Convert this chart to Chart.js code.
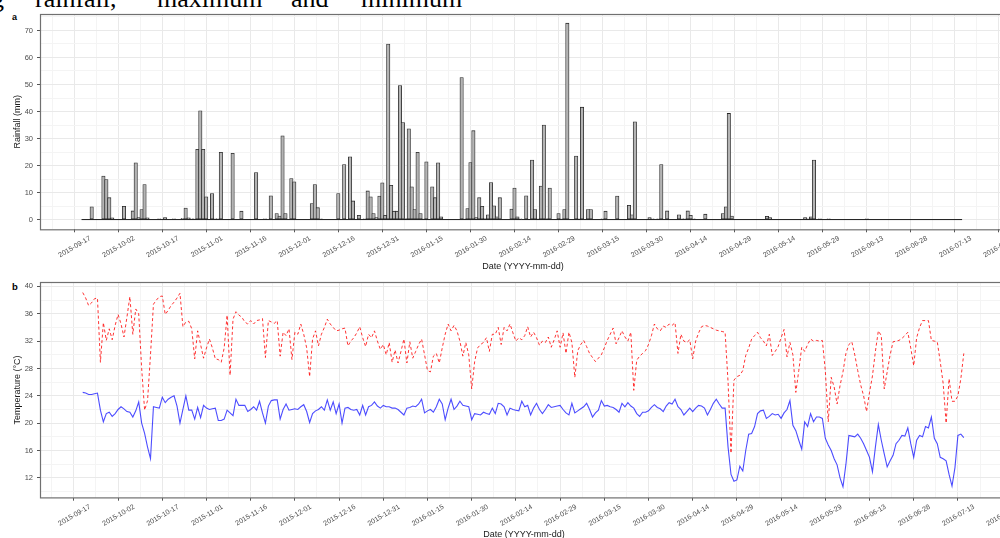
<!DOCTYPE html>
<html>
<head>
<meta charset="utf-8">
<script src="https://cdn.jsdelivr.net/npm/chart.js@4.4.0/dist/chart.umd.min.js"></script>
<style>
  html, body { margin: 0; padding: 0; background: #fff; }
  body { width: 1000px; height: 538px; overflow: hidden; position: relative; }
  .caption { position: absolute; top: -14px; font-family: "Liberation Serif", "Times New Roman", serif; font-size: 26px; line-height: 26px; color: #000; white-space: nowrap; }
  .tag { position: absolute; left: 12px; font-family: "Liberation Sans", Arial, sans-serif; font-weight: bold; font-size: 9px; line-height: 9px; color: #000; }
  canvas { position: absolute; left: 0; }
</style>
</head>
<body>
<span class="caption" style="left:-9px">g</span>
<span class="caption" style="left:35px">rainfall,</span>
<span class="caption" style="left:157px">maximum</span>
<span class="caption" style="left:291px">and</span>
<span class="caption" style="left:361px">minimum</span>
<div class="tag" style="top:13px">a</div>
<div class="tag" style="top:282px;font-size:9.5px">b</div>
<canvas id="rainChart" width="1006" height="272" style="top:0"></canvas>
<canvas id="tempChart" width="1008" height="278" style="top:270px"></canvas>
<script>
// ===============================================
// Daily rainfall and temperature, 2015-09-20 .. 2016-07-15
// x values are days counted from 2015-09-17
// ===============================================

const firstDay = 3; // 2015-09-20

const tickDates = ['2015-09-17', '2015-10-02', '2015-10-17', '2015-11-01', '2015-11-16', '2015-12-01',
    '2015-12-16', '2015-12-31', '2016-01-15', '2016-01-30', '2016-02-14', '2016-02-29', '2016-03-15',
    '2016-03-30', '2016-04-14', '2016-04-29', '2016-05-14', '2016-05-29', '2016-06-13', '2016-06-28',
    '2016-07-13', '2016-07-28'];

// rainfall (mm), one value per day
const rainfall = [
    0, 0, 0, 4.7, 0, 0, 0, 16.1, 14.8, 8.1,
    0.6, 0, 0, 0, 4.9, 0, 0, 3.2, 21.0, 0.7,
    3.7, 13.0, 0.6, 0, 0, 0, 0.3, 0, 0.7, 0,
    0, 0.3, 0, 0, 0.5, 4.3, 0.6, 0.3, 0.3, 26.0,
    40.3, 26.0, 8.4, 0, 9.6, 0.3, 0.3, 24.9, 0, 0,
    0, 24.5, 0, 0, 3.1, 0, 0, 0, 0, 17.4,
    0, 0, 0.3, 0, 8.8, 0, 2.2, 1.3, 31.0, 2.2,
    0, 15.2, 14.0, 0, 0, 0, 0, 0, 5.9, 13.0,
    4.4, 0.3, 0, 0, 0, 0, 0, 9.6, 0, 20.4,
    0, 23.2, 6.9, 0, 1.6, 0, 0.3, 10.6, 8.4, 2.2,
    0.7, 8.7, 13.6, 1.6, 65.0, 12.7, 3.1, 3.1, 49.6, 35.9,
    0.5, 33.6, 12.1, 3.7, 24.9, 2.2, 0.3, 21.4, 0, 12.1,
    8.1, 21.0, 1.0, 0, 0, 0, 0, 0, 0, 52.6,
    0.3, 4.1, 21.1, 32.9, 0.7, 8.1, 4.9, 0.5, 1.8, 13.7,
    5.1, 1.0, 8.1, 0, 0, 0, 3.9, 11.7, 1.0, 0.3,
    0, 8.8, 0, 22.0, 3.7, 0.3, 12.4, 35.0, 0.5, 11.7,
    0, 0, 2.2, 0.3, 3.7, 72.7, 0, 0, 23.5, 0.3,
    41.6, 0, 3.7, 3.7, 0, 0, 0, 0.3, 3.1, 0,
    0, 0, 8.7, 0, 0, 0, 5.3, 1.8, 36.2, 0,
    0, 0, 0, 0.7, 0.3, 0, 0.3, 20.4, 0, 3.2,
    0, 0, 0, 1.8, 0.3, 0.3, 3.2, 1.6, 0.3, 0,
    0, 0, 2.0, 0, 0, 0, 0, 0, 2.2, 4.7,
    39.3, 1.3, 0, 0, 0, 0, 0, 0, 0, 0,
    0, 0, 0, 1.2, 0.7, 0, 0, 0, 0, 0,
    0, 0, 0, 0, 0, 0, 0.7, 0.3, 1.0, 22.0,
    0, 0.3, 0, 0, 0.3, 0, 0, 0, 0, 0,
    0, 0, 0, 0, 0, 0, 0, 0.3, 0, 0,
    0, 0, 0, 0, 0, 0, 0, 0, 0, 0,
    0, 0, 0, 0, 0, 0, 0, 0, 0, 0,
    0, 0, 0, 0, 0, 0, 0, 0, 0, 0
];

// maximum temperature (°C)
const tempMax = [
    39.1, 38.3, 37.2, 37.6, 38.2, 38.3, 28.9, 34.7, 32.1, 33.8,
    32.2, 34.3, 35.9, 34.5, 32.6, 35.5, 38.5, 33.0, 36.7, 36.0,
    28.0, 21.9, 23.3, 30.0, 37.4, 38.0, 38.5, 38.6, 35.9, 36.5,
    37.2, 37.7, 38.3, 39.0, 34.1, 34.8, 34.9, 33.8, 29.4, 33.5,
    31.5, 29.5, 31.0, 32.3, 31.0, 29.4, 29.3, 28.9, 31.0, 35.8,
    27.0, 35.2, 36.3, 35.8, 35.5, 34.8, 34.5, 35.0, 34.5, 35.0,
    35.1, 35.3, 29.6, 35.0, 34.8, 34.6, 35.0, 29.8, 33.3, 32.8,
    33.8, 29.3, 33.3, 33.0, 34.5, 33.0, 31.0, 26.8, 32.3, 33.5,
    31.3, 33.0, 34.0, 35.2, 34.5, 34.0, 33.5, 33.6, 33.8, 33.9,
    31.3, 32.0, 32.5, 33.2, 34.1, 32.5, 31.2, 33.0, 32.5, 33.5,
    32.0, 30.8, 31.5, 30.0, 31.8, 28.9, 30.7, 28.8, 30.5, 32.3,
    28.8, 31.9, 29.5, 30.5, 31.5, 32.3, 30.0, 27.7, 27.5, 29.8,
    30.2, 28.8, 31.0, 33.0, 34.5, 33.5, 34.3, 33.5, 32.0, 29.8,
    31.8, 30.0, 25.0, 29.0, 31.0, 31.5, 31.8, 32.5, 30.5, 33.0,
    33.0, 34.0, 31.5, 34.0, 33.5, 34.5, 33.2, 32.0, 32.5, 32.2,
    32.8, 34.1, 32.6, 33.3, 32.5, 31.4, 32.0, 31.8, 32.6, 31.1,
    32.2, 33.5, 31.1, 33.2, 30.2, 33.3, 31.8, 26.7, 30.6, 31.5,
    32.1, 31.2, 30.2, 29.6, 29.0, 29.5, 30.0, 31.0, 32.1, 33.0,
    33.9, 31.6, 32.5, 33.5, 32.6, 32.0, 33.3, 24.8, 29.2, 29.8,
    30.2, 30.6, 31.5, 32.8, 34.5, 33.8, 33.5, 34.2, 34.0, 34.5,
    34.3, 34.7, 30.2, 33.0, 32.0, 31.8, 32.2, 29.4, 32.0, 33.2,
    34.1, 34.3, 34.2, 34.0, 33.8, 33.6, 33.5, 33.4, 33.3, 26.0,
    15.6, 26.3, 26.8, 27.0, 27.7, 29.9, 31.0, 32.3, 32.8, 33.3,
    32.5, 32.0, 31.3, 33.0, 29.9, 30.5, 31.2, 32.5, 33.7, 29.7,
    31.8, 30.0, 24.5, 27.7, 31.1, 30.5, 31.5, 32.3, 32.0, 32.1,
    32.0, 32.1, 27.7, 20.2, 26.7, 25.3, 22.8, 25.5, 27.5, 30.2,
    31.5, 31.9, 30.0, 27.7, 25.6, 24.0, 21.7, 24.5, 26.9, 30.5,
    33.5, 32.8, 25.0, 27.5, 30.0, 31.9, 32.0, 32.1, 32.4, 32.8,
    33.3, 31.0, 28.4, 32.5, 34.0, 35.0, 35.0, 35.0, 32.1, 32.0,
    31.9, 29.0, 25.8, 20.0, 26.5, 23.2, 23.2, 24.0, 26.5, 30.2
];

// minimum temperature (°C)
const tempMin = [
    24.5, 24.4, 24.2, 24.2, 24.3, 24.4, 21.9, 20.2, 21.4, 21.6,
    21.0, 21.4, 22.0, 22.4, 22.1, 21.7, 21.6, 20.9, 21.8, 23.1,
    20.0, 18.5, 16.5, 14.8, 22.4, 22.3, 22.2, 23.8, 23.0, 23.5,
    23.8, 24.0, 22.5, 20.0, 22.0, 24.0, 21.9, 21.9, 20.6, 22.3,
    20.8, 22.6, 22.2, 22.0, 22.1, 22.2, 20.4, 20.4, 20.6, 21.9,
    21.5, 21.1, 23.5, 22.6, 22.6, 22.6, 21.7, 22.0, 22.4, 21.9,
    23.2, 21.5, 20.0, 22.5, 23.3, 23.4, 23.4, 20.6, 22.0, 22.8,
    21.9, 22.0, 22.1, 22.0, 22.4, 22.7, 21.7, 20.1, 21.4, 21.8,
    22.0, 22.4, 21.9, 23.4, 21.9, 23.1, 21.4, 22.8, 20.0, 22.2,
    22.3, 22.0, 21.9, 22.0, 21.2, 22.6, 21.2, 22.4, 22.6, 23.1,
    22.5, 22.2, 22.6, 22.4, 22.4, 22.2, 22.2, 22.0, 21.6, 21.2,
    22.2, 22.3, 22.5, 22.4, 22.8, 23.5, 21.5, 21.8, 22.0, 21.6,
    22.4, 23.5, 22.8, 20.5, 22.2, 23.5, 22.0, 22.5, 23.2, 22.6,
    22.5, 22.4, 20.5, 21.4, 21.3, 21.2, 21.6, 21.4, 21.3, 22.2,
    21.4, 22.9, 22.8, 22.4, 21.2, 22.2, 22.0, 21.9, 21.8, 23.2,
    22.4, 22.6, 21.2, 22.2, 22.9, 22.0, 21.4, 22.0, 22.7, 22.3,
    22.4, 22.5, 22.6, 22.0, 21.5, 21.2, 22.9, 21.5, 21.8, 22.1,
    22.4, 22.9, 22.0, 20.9, 21.5, 21.9, 23.3, 22.5, 22.6, 22.4,
    22.3, 22.0, 21.6, 22.9, 22.4, 23.0, 22.5, 22.2, 21.4, 21.0,
    21.6, 21.6, 21.8, 22.3, 22.7, 22.3, 22.1, 21.7, 22.5, 23.0,
    22.8, 23.5, 22.4, 22.0, 21.2, 21.7, 22.2, 21.7, 22.2, 22.6,
    22.5, 22.2, 21.2, 22.0, 22.9, 23.5, 22.8, 22.2, 22.2, 16.5,
    12.5, 11.5, 11.7, 13.7, 13.0, 16.0, 18.4, 18.5, 19.5, 21.4,
    21.8, 21.9, 20.7, 21.0, 21.4, 21.2, 21.3, 20.7, 21.5, 22.0,
    23.3, 19.7, 18.9, 17.5, 16.2, 20.2, 19.5, 21.4, 20.2, 20.9,
    20.9, 20.7, 17.8, 16.8, 16.0, 14.8, 13.9, 12.0, 10.7, 14.0,
    18.2, 18.1, 18.0, 18.4, 17.8, 17.0, 16.0, 15.0, 12.9, 16.5,
    19.8, 17.5, 15.5, 13.6, 14.5, 15.3, 17.0, 17.5, 18.2, 18.1,
    19.3, 17.0, 15.0, 17.5, 18.2, 18.0, 19.5, 19.3, 20.9, 17.8,
    17.0, 15.0, 14.8, 14.5, 12.5, 10.8, 13.5, 18.2, 18.4, 17.9
];

const dayOf = i => firstDay + i;

Chart.defaults.font.family = '"Liberation Sans", Arial, sans-serif';
Chart.defaults.animation = false;

const majorGrid = '#e9e9e9';
const minorGrid = '#f4f4f4';
const tickInk = '#555555';
const isMajor = (v, step) => Math.abs(v / step - Math.round(v / step)) < 1e-6;

// draws the panel border like theme_bw
const panelFrame = {
    id: 'panelFrame',
    afterDatasetsDraw(chart) {
        const { ctx, chartArea: a } = chart;
        ctx.save();
        ctx.strokeStyle = '#707070';
        ctx.lineWidth = 1.2;
        ctx.strokeRect(Math.round(a.left) + 0.5, Math.round(a.top) + 0.5, a.width, a.height);
        ctx.restore();
    }
};

function dateAxis(min, max, axisHeight, titlePad) {
    return {
        type: 'linear',
        min: min,
        max: max,
        offset: false,
        border: { display: false },
        grid: {
            offset: false,
            color: c => (c.tick && isMajor(c.tick.value, 15)) ? majorGrid : minorGrid,
            tickColor: c => (c.tick && isMajor(c.tick.value, 15)) ? tickInk : 'rgba(0,0,0,0)',
            tickLength: 3
        },
        ticks: {
            stepSize: 7.5,
            includeBounds: false,
            autoSkip: false,
            minRotation: 30,
            maxRotation: 30,
            labelOffset: 16,
            padding: 2,
            color: '#4d4d4d',
            font: { size: 7 },
            callback: v => isMajor(v, 15) ? (tickDates[Math.round(v / 15)] || '') : ''
        },
        title: {
            display: true,
            text: 'Date (YYYY-mm-dd)',
            color: '#1a1a1a',
            font: { size: 9 },
            padding: { top: 0, bottom: titlePad }
        },
        afterFit: s => { s.height = axisHeight; s.paddingLeft = 0; s.paddingRight = 0; }
    };
}

function valueAxis(min, max, step, labelEvery, titleText) {
    return {
        min: min,
        max: max,
        border: { display: false },
        grid: {
            color: c => (c.tick && isMajor(c.tick.value, labelEvery)) ? majorGrid : minorGrid,
            tickColor: c => (c.tick && isMajor(c.tick.value, labelEvery)) ? tickInk : 'rgba(0,0,0,0)',
            tickLength: 3
        },
        ticks: {
            stepSize: step,
            includeBounds: false,
            autoSkip: false,
            padding: 4,
            color: '#4d4d4d',
            font: { size: 7.5 },
            callback: v => isMajor(v, labelEvery) ? v : ''
        },
        title: {
            display: true,
            text: titleText,
            color: '#1a1a1a',
            font: { size: 9 },
            padding: { top: 12, bottom: 0 }
        },
        afterFit: s => { s.width = 40; s.paddingTop = 0; s.paddingBottom = 0; }
    };
}

const commonOptions = {
    responsive: false,
    devicePixelRatio: 1,
    animation: false,
    plugins: { legend: { display: false }, tooltip: { enabled: false } }
};

// ---- panel a : rainfall bars ----
const rainPoints = rainfall.map((v, i) => ({ x: dayOf(i), y: v }));
const rainEnds = [{ x: dayOf(0) - 0.45, y: 0 }, { x: dayOf(rainfall.length - 1) + 0.45, y: 0 }];

new Chart(document.getElementById('rainChart'), {
    type: 'bar',
    data: {
        datasets: [
            {
                type: 'line', data: rainEnds, borderColor: '#1a1a1a', borderWidth: 1,
                pointRadius: 0, tension: 0
            },
            {
                data: rainPoints, backgroundColor: '#b4b4b4', borderColor: '#262626', borderWidth: 0.8,
                borderSkipped: false, barThickness: 3.4
            }
        ]
    },
    options: {
        ...commonOptions,
        layout: { padding: { top: 14, left: 0, right: 0, bottom: 0 } },
        scales: {
            x: dateAxis(-11.6, 317.4, 42.7, 0),
            y: valueAxis(-3.6, 76.1, 5, 10, 'Rainfall (mm)')
        }
    },
    plugins: [panelFrame]
});

// ---- panel b : max / min temperature ----
const maxPoints = tempMax.map((v, i) => ({ x: dayOf(i), y: v }));
const minPoints = tempMin.map((v, i) => ({ x: dayOf(i), y: v }));

new Chart(document.getElementById('tempChart'), {
    type: 'line',
    data: {
        datasets: [
            { data: maxPoints, borderColor: 'rgba(255,0,0,0.8)', borderWidth: 1, borderDash: [3, 2.5], pointRadius: 0, tension: 0 },
            { data: minPoints, borderColor: 'rgba(0,0,255,0.7)', borderWidth: 1.1, pointRadius: 0, tension: 0 }
        ]
    },
    options: {
        ...commonOptions,
        layout: { padding: { top: 12.3, left: 0, right: 0, bottom: 0 } },
        scales: {
            x: dateAxis(-11.5, 317.0, 50.3, 7.6),
            y: valueAxis(9.1, 40.6, 2, 4, 'Temperature (°C)')
        }
    },
    plugins: [panelFrame]
});
</script>
</body>
</html>
